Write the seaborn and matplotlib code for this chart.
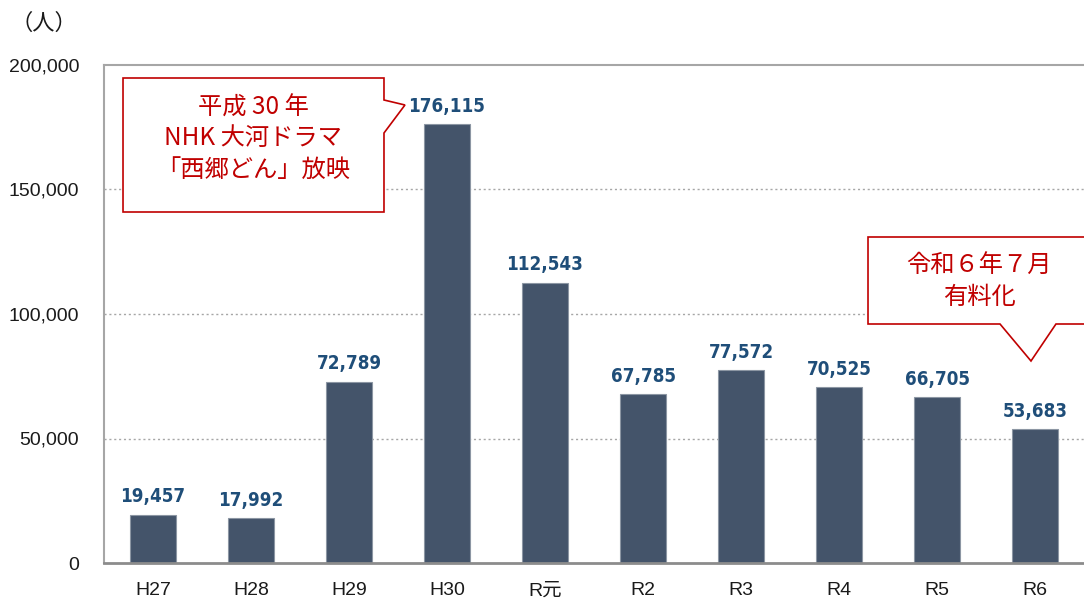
import matplotlib
matplotlib.use("Agg")
import matplotlib.pyplot as plt
import seaborn as sns
import pandas as pd
from matplotlib.patches import Polygon

categories = ["H27", "H28", "H29", "H30", "R元", "R2", "R3", "R4", "R5", "R6"]
visitors = [19457, 17992, 72789, 176115, 112543, 67785, 77572, 70525, 66705, 53683]
yticks = [0, 50000, 100000, 150000, 200000]
ytick_labels = ["0", "50,000", "100,000", "150,000", "200,000"]
unit_label = "（人）"
callout1_text = "平成 30 年\nNHK 大河ドラマ\n「西郷どん」放映"
callout2_text = "令和６年７月\n有料化"

sns.set_theme(style="white")
plt.rcParams['font.family'] = ['Liberation Sans', 'Noto Sans CJK JP', 'DejaVu Sans']

df = pd.DataFrame({"year": categories, "visitors": visitors})

fig = plt.figure(figsize=(10.84, 6.01), dpi=100)
ax = fig.add_axes([104/1084, 1-563/601, 1-104/1084, (563-65)/601])

sns.barplot(data=df, x="year", y="visitors", color="#44546A", width=0.46,
            edgecolor="#8C96A3", linewidth=0.8, saturation=1, ax=ax)

ax.set_xlim(-0.5, len(categories) - 0.5)
ax.set_ylim(0, 200000)
ax.set_yticks(yticks)
ax.set_yticklabels(ytick_labels, fontsize=14, color="#1a1a1a")
ax.tick_params(axis='y', length=0, pad=18)
ax.tick_params(axis='x', length=0, pad=14, labelsize=14, labelcolor="#1a1a1a")
ax.set_xlabel("")
ax.set_ylabel("")

for g in yticks[1:-1]:
    ax.axhline(g, color="#A6A6A6", linestyle=(0, (1.5, 2)), linewidth=1, zorder=0)

for s in ["left", "top"]:
    ax.spines[s].set_color("#A6A6A6")
    ax.spines[s].set_linewidth(1.5)
ax.spines["bottom"].set_color("#8C8C8C")
ax.spines["bottom"].set_linewidth(2)
ax.spines["right"].set_visible(False)

for i, v in enumerate(visitors):
    ax.annotate(f"{v:,}", (i, v), xytext=(0, 6), textcoords="offset points",
                ha="center", va="bottom", fontsize=13.5, fontweight="bold",
                fontstretch="condensed",
                color="#1F4E79", family=["DejaVu Sans"])

fig.text(10/1084, 1-23/601, unit_label, fontsize=16, ha="left", va="center",
         family=["Noto Sans CJK JP", "DejaVu Sans"], color="#1a1a1a")

red = "#C00000"
# Callout 1 (data coordinates)
c1 = [(-0.306, 194779), (2.357, 194779), (2.357, 185944), (2.571, 183936),
      (2.357, 172691), (2.357, 140964), (-0.306, 140964)]
ax.add_patch(Polygon(c1, closed=True, facecolor="white", edgecolor=red,
                     linewidth=1.2, zorder=5))
ax.text(1.02, 170500, callout1_text, ha="center", va="center", fontsize=17.5,
        color=red, linespacing=1.25, zorder=6,
        family=["Noto Sans CJK JP", "DejaVu Sans"])

# Callout 2
c2 = [(7.296, 130924), (9.8, 130924), (9.8, 95984), (9.214, 95984),
      (8.959, 81124), (8.643, 95984), (7.296, 95984)]
ax.add_patch(Polygon(c2, closed=True, facecolor="white", edgecolor=red,
                     linewidth=1.2, zorder=5, clip_on=True))
ax.text(8.43, 113000, callout2_text, ha="center", va="center", fontsize=17.5,
        color=red, linespacing=1.25, zorder=6,
        family=["Noto Sans CJK JP", "DejaVu Sans"])

fig.savefig("out.png", dpi=100)
